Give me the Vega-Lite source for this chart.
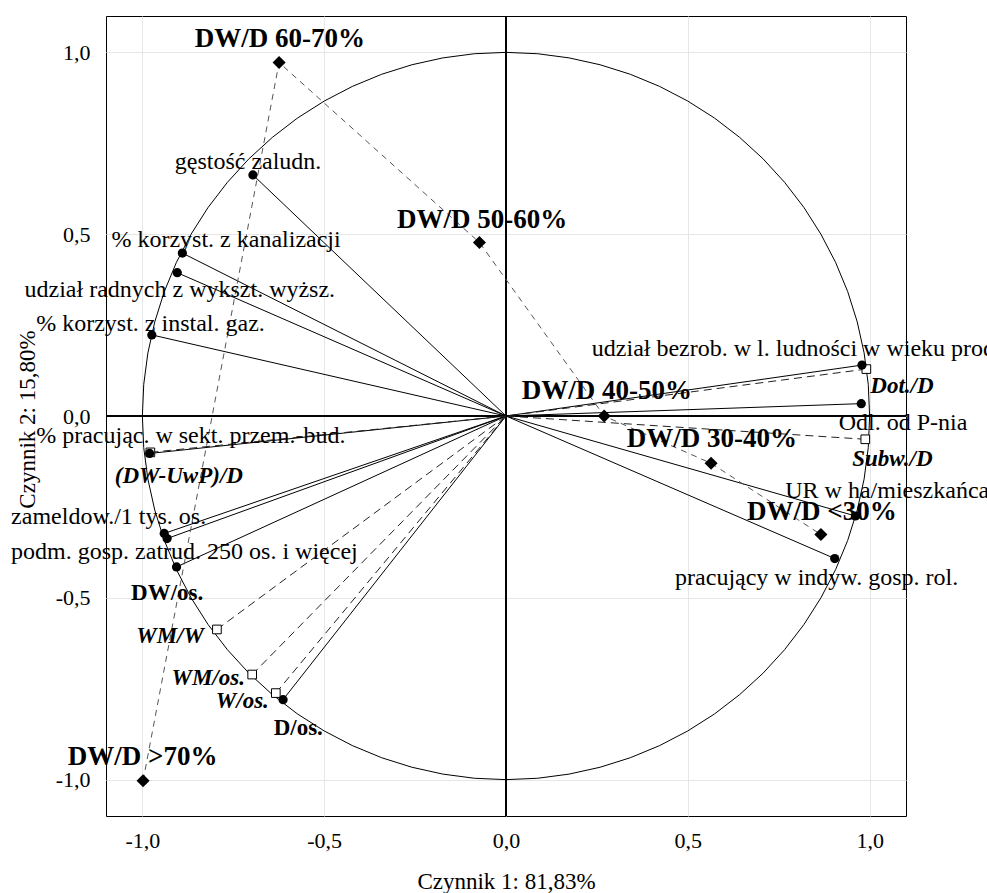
{
  "$schema": "https://vega.github.io/schema/vega-lite/v6.json",
  "width": 800,
  "height": 800,
  "autosize": {"type": "none"},
  "padding": {"left": 106, "top": 16, "right": 81, "bottom": 77},
  "background": "white",
  "config": {
    "view": {"stroke": "black", "strokeWidth": 1},
    "font": "Liberation Serif",
    "axis": {
      "labelFont": "Liberation Serif",
      "titleFont": "Liberation Serif",
      "labelColor": "black",
      "titleColor": "black",
      "labelFontSize": 22,
      "titleFontSize": 23,
      "titleFontWeight": "normal",
      "ticks": false,
      "domain": false,
      "grid": true,
      "gridColor": "#e6e6e6",
      "gridWidth": 1
    }
  },
  "datasets": {
    "circle": [
      {"a":0,"x":1,"y":0},{"a":5,"x":0.9962,"y":0.0872},{"a":10,"x":0.9848,"y":0.1736},{"a":15,"x":0.9659,"y":0.2588},
      {"a":20,"x":0.9397,"y":0.342},{"a":25,"x":0.9063,"y":0.4226},{"a":30,"x":0.866,"y":0.5},{"a":35,"x":0.8192,"y":0.5736},
      {"a":40,"x":0.766,"y":0.6428},{"a":45,"x":0.7071,"y":0.7071},{"a":50,"x":0.6428,"y":0.766},{"a":55,"x":0.5736,"y":0.8192},
      {"a":60,"x":0.5,"y":0.866},{"a":65,"x":0.4226,"y":0.9063},{"a":70,"x":0.342,"y":0.9397},{"a":75,"x":0.2588,"y":0.9659},
      {"a":80,"x":0.1736,"y":0.9848},{"a":85,"x":0.0872,"y":0.9962},{"a":90,"x":0,"y":1},{"a":95,"x":-0.0872,"y":0.9962},
      {"a":100,"x":-0.1736,"y":0.9848},{"a":105,"x":-0.2588,"y":0.9659},{"a":110,"x":-0.342,"y":0.9397},{"a":115,"x":-0.4226,"y":0.9063},
      {"a":120,"x":-0.5,"y":0.866},{"a":125,"x":-0.5736,"y":0.8192},{"a":130,"x":-0.6428,"y":0.766},{"a":135,"x":-0.7071,"y":0.7071},
      {"a":140,"x":-0.766,"y":0.6428},{"a":145,"x":-0.8192,"y":0.5736},{"a":150,"x":-0.866,"y":0.5},{"a":155,"x":-0.9063,"y":0.4226},
      {"a":160,"x":-0.9397,"y":0.342},{"a":165,"x":-0.9659,"y":0.2588},{"a":170,"x":-0.9848,"y":0.1736},{"a":175,"x":-0.9962,"y":0.0872},
      {"a":180,"x":-1,"y":0},{"a":185,"x":-0.9962,"y":-0.0872},{"a":190,"x":-0.9848,"y":-0.1736},{"a":195,"x":-0.9659,"y":-0.2588},
      {"a":200,"x":-0.9397,"y":-0.342},{"a":205,"x":-0.9063,"y":-0.4226},{"a":210,"x":-0.866,"y":-0.5},{"a":215,"x":-0.8192,"y":-0.5736},
      {"a":220,"x":-0.766,"y":-0.6428},{"a":225,"x":-0.7071,"y":-0.7071},{"a":230,"x":-0.6428,"y":-0.766},{"a":235,"x":-0.5736,"y":-0.8192},
      {"a":240,"x":-0.5,"y":-0.866},{"a":245,"x":-0.4226,"y":-0.9063},{"a":250,"x":-0.342,"y":-0.9397},{"a":255,"x":-0.2588,"y":-0.9659},
      {"a":260,"x":-0.1736,"y":-0.9848},{"a":265,"x":-0.0872,"y":-0.9962},{"a":270,"x":0,"y":-1},{"a":275,"x":0.0872,"y":-0.9962},
      {"a":280,"x":0.1736,"y":-0.9848},{"a":285,"x":0.2588,"y":-0.9659},{"a":290,"x":0.342,"y":-0.9397},{"a":295,"x":0.4226,"y":-0.9063},
      {"a":300,"x":0.5,"y":-0.866},{"a":305,"x":0.5736,"y":-0.8192},{"a":310,"x":0.6428,"y":-0.766},{"a":315,"x":0.7071,"y":-0.7071},
      {"a":320,"x":0.766,"y":-0.6428},{"a":325,"x":0.8192,"y":-0.5736},{"a":330,"x":0.866,"y":-0.5},{"a":335,"x":0.9063,"y":-0.4226},
      {"a":340,"x":0.9397,"y":-0.342},{"a":345,"x":0.9659,"y":-0.2588},{"a":350,"x":0.9848,"y":-0.1736},{"a":355,"x":0.9962,"y":-0.0872},
      {"a":360,"x":1,"y":0}
    ],
    "vars": [
      {"name":"gęstość zaludn.","x":-0.696,"y":0.663,"type":"active"},
      {"name":"% korzyst. z kanalizacji","x":-0.890,"y":0.448,"type":"active"},
      {"name":"udział radnych z wykszt. wyższ.","x":-0.904,"y":0.394,"type":"active"},
      {"name":"% korzyst. z instal. gaz.","x":-0.974,"y":0.223,"type":"active"},
      {"name":"% pracując. w sekt. przem.-bud.","x":-0.980,"y":-0.103,"type":"active"},
      {"name":"zameldow./1 tys. os.","x":-0.940,"y":-0.323,"type":"active"},
      {"name":"podm. gosp. zatrud. 250 os. i więcej","x":-0.932,"y":-0.337,"type":"active"},
      {"name":"DW/os.","x":-0.906,"y":-0.415,"type":"active"},
      {"name":"D/os.","x":-0.613,"y":-0.780,"type":"active"},
      {"name":"udział bezrob. w l. ludności w wieku prod.","x":0.979,"y":0.140,"type":"active"},
      {"name":"Odl. od P-nia","x":0.977,"y":0.034,"type":"active"},
      {"name":"UR w ha/mieszkańca","x":0.961,"y":-0.275,"type":"active"},
      {"name":"pracujący w indyw. gosp. rol.","x":0.904,"y":-0.392,"type":"active"},
      {"name":"Dot./D","x":0.991,"y":0.129,"type":"supp"},
      {"name":"Subw./D","x":0.988,"y":-0.064,"type":"supp"},
      {"name":"(DW-UwP)/D","x":-0.978,"y":-0.100,"type":"supp"},
      {"name":"WM/W","x":-0.795,"y":-0.587,"type":"supp"},
      {"name":"WM/os.","x":-0.698,"y":-0.711,"type":"supp"},
      {"name":"W/os.","x":-0.633,"y":-0.762,"type":"supp"}
    ],
    "cats": [
      {"name":"DW/D >70%","x":-0.998,"y":-1.003,"ord":1},
      {"name":"DW/D 60-70%","x":-0.624,"y":0.972,"ord":2},
      {"name":"DW/D 50-60%","x":-0.073,"y":0.477,"ord":3},
      {"name":"DW/D 40-50%","x":0.270,"y":0.000,"ord":4},
      {"name":"DW/D 30-40%","x":0.564,"y":-0.130,"ord":5},
      {"name":"DW/D <30%","x":0.866,"y":-0.326,"ord":6}
    ],
    "labels": [
      {"label":"DW/D 60-70%","x":-0.856,"y":1.014,"kind":"cat"},
      {"label":"DW/D 50-60%","x":-0.300,"y":0.518,"kind":"cat"},
      {"label":"DW/D 40-50%","x":0.043,"y":0.046,"kind":"cat"},
      {"label":"DW/D 30-40%","x":0.332,"y":-0.084,"kind":"cat"},
      {"label":"DW/D <30%","x":0.663,"y":-0.287,"kind":"cat"},
      {"label":"DW/D >70%","x":-1.205,"y":-0.959,"kind":"cat"},
      {"label":"gęstość zaludn.","x":-0.911,"y":0.680,"kind":"var"},
      {"label":"% korzyst. z kanalizacji","x":-1.085,"y":0.465,"kind":"var"},
      {"label":"udział radnych z wykszt. wyższ.","x":-1.324,"y":0.327,"kind":"var"},
      {"label":"% korzyst. z instal. gaz.","x":-1.292,"y":0.234,"kind":"var"},
      {"label":"% pracując. w sekt. przem.-bud.","x":-1.292,"y":-0.073,"kind":"var"},
      {"label":"zameldow./1 tys. os.","x":-1.361,"y":-0.298,"kind":"var"},
      {"label":"podm. gosp. zatrud. 250 os. i więcej","x":-1.361,"y":-0.394,"kind":"var"},
      {"label":"udział bezrob. w l. ludności w wieku prod.","x":0.236,"y":0.165,"kind":"var"},
      {"label":"Odl. od P-nia","x":0.915,"y":-0.039,"kind":"var"},
      {"label":"UR w ha/mieszkańca","x":0.768,"y":-0.225,"kind":"var"},
      {"label":"pracujący w indyw. gosp. rol.","x":0.465,"y":-0.465,"kind":"var"},
      {"label":"DW/os.","x":-1.031,"y":-0.507,"kind":"boldvar"},
      {"label":"D/os.","x":-0.639,"y":-0.876,"kind":"boldvar"},
      {"label":"(DW-UwP)/D","x":-1.076,"y":-0.184,"kind":"supp"},
      {"label":"WM/W","x":-1.017,"y":-0.624,"kind":"supp"},
      {"label":"WM/os.","x":-0.920,"y":-0.739,"kind":"supp"},
      {"label":"W/os.","x":-0.798,"y":-0.803,"kind":"supp"},
      {"label":"Dot./D","x":1.002,"y":0.064,"kind":"supp"},
      {"label":"Subw./D","x":0.952,"y":-0.138,"kind":"supp"}
    ]
  },
  "encoding": {
    "x": {
      "field": "x", "type": "quantitative",
      "scale": {"domain": [-1.1, 1.1], "nice": false, "zero": false},
      "axis": {
        "title": "Czynnik 1: 81,83%",
        "values": [-1, -0.5, 0, 0.5, 1],
        "labelExpr": "replace(replace(format(datum.value, '.1f'), '.', ','), '\u2212', '-')",
        "labelPadding": 14,
        "titleBaseline": "alphabetic",
        "titleY": 72
      }
    },
    "y": {
      "field": "y", "type": "quantitative",
      "scale": {"domain": [-1.1, 1.1], "nice": false, "zero": false},
      "axis": {
        "title": "Czynnik 2: 15,80%",
        "values": [-1, -0.5, 0, 0.5, 1],
        "labelExpr": "replace(replace(format(datum.value, '.1f'), '.', ','), '\u2212', '-')",
        "labelPadding": 16,
        "titleAngle": 270,
        "titleBaseline": "alphabetic",
        "titleAlign": "center",
        "titleX": -72,
        "titleY": 403
      }
    }
  },
  "layer": [
    {
      "data": {"name": "cats"},
      "mark": {"type": "rule", "color": "black", "strokeWidth": 1},
      "encoding": {
        "x": {"datum": 0, "type": "quantitative"},
        "y": {"datum": -1.1, "type": "quantitative"},
        "y2": {"datum": 1.1}
      }
    },
    {
      "data": {"name": "cats"},
      "mark": {"type": "rule", "color": "black", "strokeWidth": 1},
      "encoding": {
        "y": {"datum": 0, "type": "quantitative"},
        "x": {"datum": -1.1, "type": "quantitative"},
        "x2": {"datum": 1.1}
      }
    },
    {
      "data": {"name": "vars"},
      "transform": [{"filter": "datum.type === 'active'"}],
      "mark": {"type": "rule", "color": "black", "strokeWidth": 1},
      "encoding": {"x2": {"datum": 0}, "y2": {"datum": 0}}
    },
    {
      "data": {"name": "vars"},
      "transform": [{"filter": "datum.type === 'supp'"}],
      "mark": {"type": "rule", "color": "#222", "strokeWidth": 1, "strokeDash": [8, 5]},
      "encoding": {"x2": {"datum": 0}, "y2": {"datum": 0}}
    },
    {
      "data": {"name": "cats"},
      "mark": {"type": "line", "color": "#555", "strokeWidth": 1, "strokeDash": [6, 5]},
      "encoding": {"order": {"field": "ord", "type": "quantitative"}}
    },
    {
      "data": {"name": "circle"},
      "mark": {"type": "line", "color": "black", "strokeWidth": 1},
      "encoding": {"order": {"field": "a", "type": "quantitative"}}
    },
    {
      "data": {"name": "vars"},
      "transform": [{"filter": "datum.type === 'supp'"}],
      "mark": {"type": "point", "shape": "square", "size": 75, "filled": true, "fill": "white", "stroke": "black", "strokeWidth": 1, "opacity": 1}
    },
    {
      "data": {"name": "vars"},
      "transform": [{"filter": "datum.type === 'active'"}],
      "mark": {"type": "point", "shape": "circle", "size": 85, "filled": true, "color": "black", "opacity": 1}
    },
    {
      "data": {"name": "cats"},
      "mark": {"type": "point", "shape": "diamond", "size": 170, "filled": true, "color": "black", "opacity": 1}
    },
    {
      "data": {"name": "labels"},
      "transform": [{"filter": "datum.kind === 'var'"}],
      "mark": {"type": "text", "align": "left", "baseline": "alphabetic", "font": "Liberation Serif", "fontSize": 24, "color": "black"},
      "encoding": {"text": {"field": "label"}}
    },
    {
      "data": {"name": "labels"},
      "transform": [{"filter": "datum.kind === 'cat'"}],
      "mark": {"type": "text", "align": "left", "baseline": "alphabetic", "font": "Liberation Serif", "fontSize": 27, "fontWeight": "bold", "color": "black"},
      "encoding": {"text": {"field": "label"}}
    },
    {
      "data": {"name": "labels"},
      "transform": [{"filter": "datum.kind === 'boldvar'"}],
      "mark": {"type": "text", "align": "left", "baseline": "alphabetic", "font": "Liberation Serif", "fontSize": 23, "fontWeight": "bold", "color": "black"},
      "encoding": {"text": {"field": "label"}}
    },
    {
      "data": {"name": "labels"},
      "transform": [{"filter": "datum.kind === 'supp'"}],
      "mark": {"type": "text", "align": "left", "baseline": "alphabetic", "font": "Liberation Serif", "fontSize": 23, "fontWeight": "bold", "fontStyle": "italic", "color": "black"},
      "encoding": {"text": {"field": "label"}}
    }
  ]
}
